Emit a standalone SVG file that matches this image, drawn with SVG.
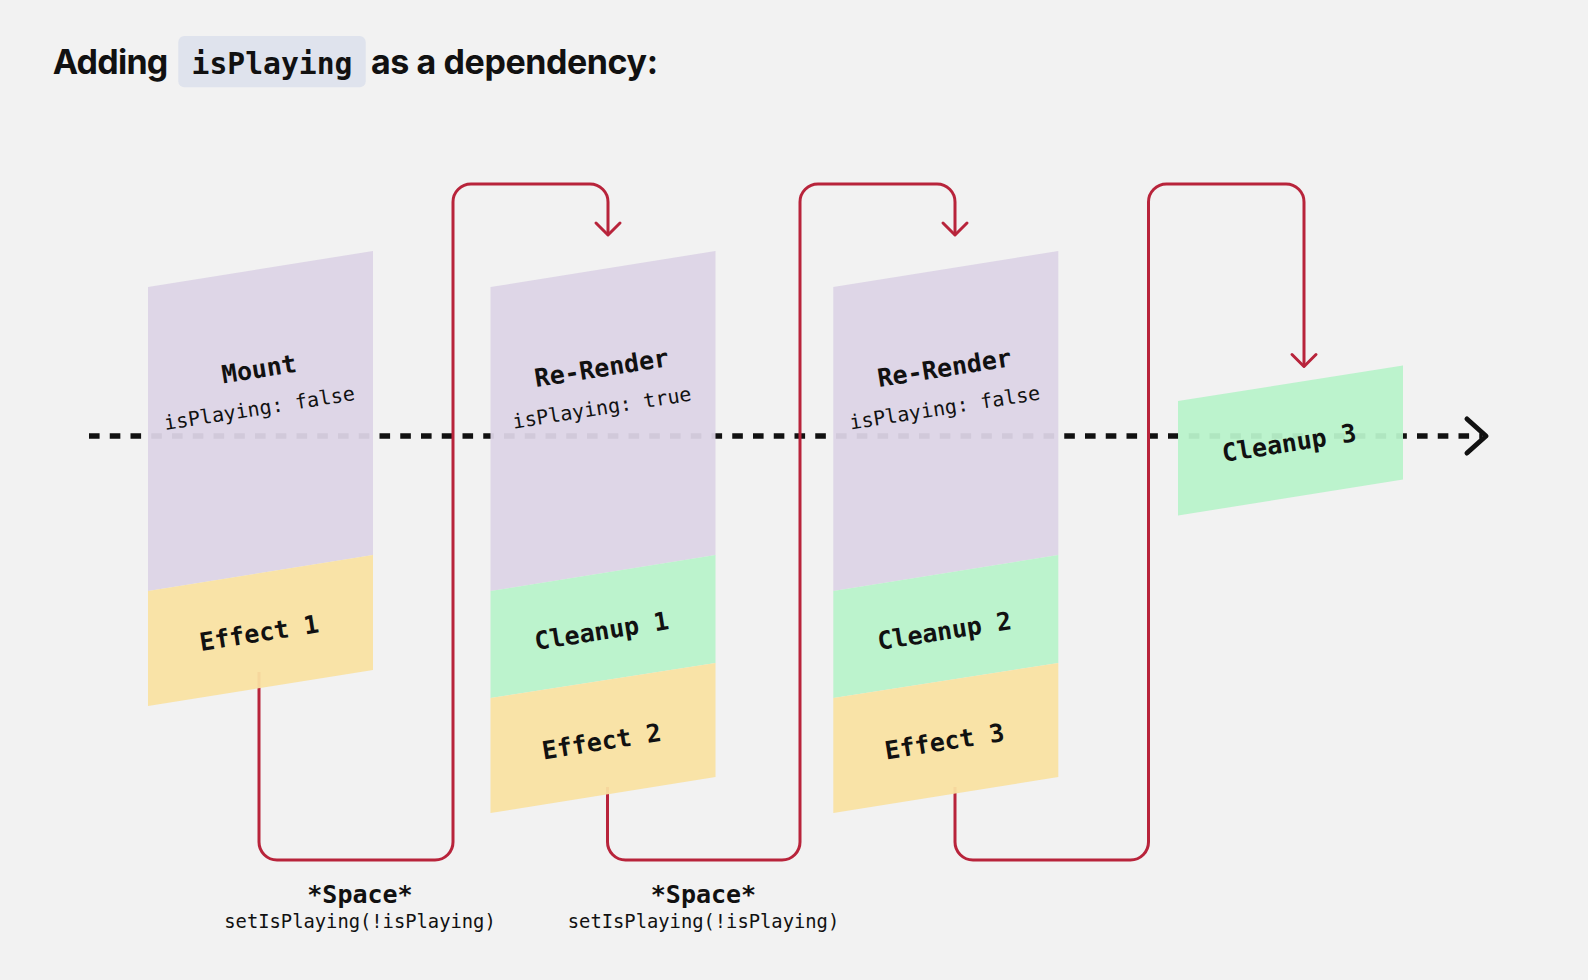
<svg xmlns="http://www.w3.org/2000/svg" width="1588" height="980" viewBox="0 0 1588 980">
  <style>
    .bg { fill: #f2f2f2; }
    .title { font-family: Inter, "Noto Sans", "Liberation Sans", sans-serif; font-weight: 700; font-size: 34px; fill: #111; }
    .code { font-family: "DejaVu Sans Mono", "Liberation Mono", monospace; font-weight: 700; font-size: 29.7px; fill: #111; }
    .codebox { fill: #dfe3ed; }
    .purple { fill: #dcd4e6; fill-opacity: 0.95; }
    .green { fill: #b8f2ca; fill-opacity: 0.95; }
    .yellow { fill: #f9e1a2; fill-opacity: 0.95; }
    .lbl { font-family: "DejaVu Sans Mono", "Liberation Mono", monospace; font-weight: 700; font-size: 25px; fill: #111; text-anchor: middle; }
    .sub { font-family: "DejaVu Sans Mono", "Liberation Mono", monospace; font-weight: 400; font-size: 20px; fill: #111; text-anchor: middle; }
    .note { font-family: "DejaVu Sans Mono", "Liberation Mono", monospace; font-weight: 400; font-size: 18.8px; fill: #111; text-anchor: middle; }
    .red { fill: none; stroke: #b8243b; stroke-width: 3; stroke-linejoin: round; }
    .timeline { fill: none; stroke: #111; stroke-width: 5.5; stroke-dasharray: 10.6 10.15; }
    .chev { fill: none; stroke: #111; stroke-width: 5; stroke-linecap: round; stroke-linejoin: round; }
  </style>
  <defs>
    <marker id="redArrow" markerUnits="userSpaceOnUse" viewBox="-16 -16 32 32" markerWidth="32" markerHeight="32" refX="0" refY="0" orient="auto">
      <path d="M-12,-12 L0,0 L-12,12" fill="none" stroke="#b8243b" stroke-width="3" stroke-linecap="round" stroke-linejoin="round"/>
    </marker>
  </defs>

  <rect class="bg" x="0" y="0" width="1588" height="980"/>

  <g id="title">
    <text class="title" x="52.7" y="74.3" textLength="115.6">Adding</text>
    <rect class="codebox" x="178.3" y="36" width="187.4" height="51.3" rx="6"/>
    <text class="code" x="272" y="74.3" text-anchor="middle">isPlaying</text>
    <text class="title" x="371" y="74.3" textLength="287">as a dependency:</text>
  </g>

  <g id="connectors">
    <path class="timeline" d="M89,436 H1482"/>
    <path class="chev" d="M1467,419 L1486,436 L1467,453"/>
    <path class="red" marker-end="url(#redArrow)" d="M259,672 V842 A18,18 0 0 0 277,860 H435 A18,18 0 0 0 453,842 V202 A18,18 0 0 1 471,184 H590 A18,18 0 0 1 608,202 V235"/>
    <path class="red" marker-end="url(#redArrow)" d="M607.5,787 V842 A18,18 0 0 0 625.5,860 H782 A18,18 0 0 0 800,842 V202 A18,18 0 0 1 818,184 H937 A18,18 0 0 1 955,202 V235"/>
    <path class="red" marker-end="url(#redArrow)" d="M955,787 V842 A18,18 0 0 0 973,860 H1130.5 A18,18 0 0 0 1148.5,842 V202 A18,18 0 0 1 1166.5,184 H1286 A18,18 0 0 1 1304,202 V366.5"/>
  </g>

  <g id="node-mount">
    <polygon class="purple" points="148,287 373,251 373,555 148,591"/>
    <polygon class="yellow" points="148,591 373,555 373,670 148,706"/>
    <text class="lbl" x="260.5" y="377.5" transform="rotate(-9 260.5 377.5)">Mount</text>
    <text class="sub" x="260.5" y="415" transform="rotate(-9 260.5 415)">isPlaying: false</text>
    <text class="lbl" x="260.5" y="641.5" transform="rotate(-9 260.5 641.5)">Effect 1</text>
  </g>

  <g id="node-rerender-1">
    <polygon class="purple" points="490.5,287 715.5,251 715.5,555 490.5,591"/>
    <polygon class="green" points="490.5,591 715.5,555 715.5,663 490.5,698"/>
    <polygon class="yellow" points="490.5,698 715.5,663 715.5,777 490.5,813"/>
    <text class="lbl" x="603" y="376.5" transform="rotate(-9 603 376.5)">Re-Render</text>
    <text class="sub" x="603" y="414.5" transform="rotate(-9 603 414.5)">isPlaying: true</text>
    <text class="lbl" x="603" y="639.5" transform="rotate(-9 603 639.5)">Cleanup 1</text>
    <text class="lbl" x="603" y="750" transform="rotate(-9 603 750)">Effect 2</text>
  </g>

  <g id="node-rerender-2">
    <polygon class="purple" points="833.3,287 1058.3,251 1058.3,555 833.3,591"/>
    <polygon class="green" points="833.3,591 1058.3,555 1058.3,663 833.3,698"/>
    <polygon class="yellow" points="833.3,698 1058.3,663 1058.3,777 833.3,813"/>
    <text class="lbl" x="945.8" y="376.5" transform="rotate(-9 945.8 376.5)">Re-Render</text>
    <text class="sub" x="945.8" y="414.5" transform="rotate(-9 945.8 414.5)">isPlaying: false</text>
    <text class="lbl" x="945.8" y="639.5" transform="rotate(-9 945.8 639.5)">Cleanup 2</text>
    <text class="lbl" x="945.8" y="750" transform="rotate(-9 945.8 750)">Effect 3</text>
  </g>

  <g id="node-cleanup-3">
    <polygon class="green" points="1178,401 1403,365.5 1403,479.5 1178,515.5"/>
    <text class="lbl" x="1290.5" y="451.5" transform="rotate(-9 1290.5 451.5)">Cleanup 3</text>
  </g>

  <g id="label-space-1">
    <text class="lbl" x="360" y="903.3">*Space*</text>
    <text class="note" x="360" y="928.3">setIsPlaying(!isPlaying)</text>
  </g>
  <g id="label-space-2">
    <text class="lbl" x="703.5" y="903.3">*Space*</text>
    <text class="note" x="703.5" y="928.3">setIsPlaying(!isPlaying)</text>
  </g>
</svg>
